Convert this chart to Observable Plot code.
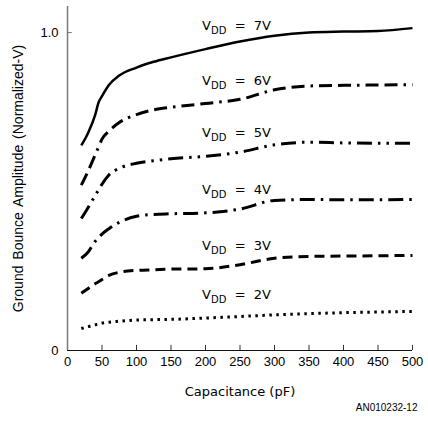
<!DOCTYPE html>
<html><head><meta charset="utf-8">
<script src="https://cdn.jsdelivr.net/npm/d3@7"></script>
<script src="https://cdn.jsdelivr.net/npm/@observablehq/plot@0.6"></script>
<style>body{margin:0;background:#fff} svg{display:block}</style>
</head><body><div id="chart"></div>
<script>
// Capacitance sample points (pF)
const capacitance = [20, 30, 40, 45, 50, 60, 75, 100, 125, 150, 200, 250, 300, 350, 400, 450, 500];
// Normalized ground bounce amplitude per supply voltage
const vdd7 = [0.645, 0.685, 0.74, 0.78, 0.80, 0.835, 0.865, 0.89, 0.908, 0.922, 0.948, 0.972, 0.99, 1.0, 1.003, 1.005, 1.014];
const vdd6 = [0.52, 0.565, 0.615, 0.64, 0.665, 0.69, 0.717, 0.742, 0.757, 0.765, 0.777, 0.79, 0.82, 0.832, 0.834, 0.835, 0.836];
const vdd5 = [0.415, 0.45, 0.487, 0.505, 0.523, 0.552, 0.573, 0.589, 0.597, 0.603, 0.611, 0.624, 0.647, 0.655, 0.653, 0.652, 0.652];
const vdd4 = [0.29, 0.31, 0.343, 0.355, 0.366, 0.383, 0.403, 0.422, 0.428, 0.43, 0.433, 0.445, 0.472, 0.475, 0.474, 0.474, 0.475];
const vdd3 = [0.18, 0.195, 0.21, 0.216, 0.223, 0.236, 0.246, 0.252, 0.254, 0.256, 0.257, 0.27, 0.29, 0.296, 0.297, 0.298, 0.299];
const vdd2 = [0.069, 0.075, 0.081, 0.083, 0.086, 0.089, 0.092, 0.096, 0.097, 0.098, 0.102, 0.107, 0.112, 0.116, 0.119, 0.121, 0.123];
const supplyLabels = ["7V", "6V", "5V", "4V", "3V", "2V"];
const xTicks = [0, 50, 100, 150, 200, 250, 300, 350, 400, 450, 500];
const yTicks = [0, 1];
const yTickLabels = ["0", "1.0"];
const xTitle = "Capacitance (pF)";
const yTitle = "Ground Bounce Amplitude (Normalized-V)";
const caption = "AN010232-12";

const dashes = [null, "13,6,13,6,2.5,6", "15,6,2.5,6,2.5,6", "15,6,2.5,6", "10,6", "2.5,4.5"];
const widths = [2.5, 3, 3, 3, 3, 3];
const seriesValues = [vdd7, vdd6, vdd5, vdd4, vdd3, vdd2];
const series = supplyLabels.map((label, k) => ({label, values: seriesValues[k], dash: dashes[k], width: widths[k]}));

const labelAt = 200;
const labelIndex = capacitance.indexOf(labelAt);
const tickLen = 0.016; // short inward tick

const SANS = "'Liberation Sans', Arial, sans-serif";
const WIDE = "'DejaVu Sans', sans-serif";

const lineMarks = series.map(s => Plot.line(capacitance, {
  x: d => d,
  y: (d, i) => s.values[i],
  curve: "monotone-x",
  stroke: "#000",
  strokeWidth: s.width,
  strokeDasharray: s.dash,
  strokeLinecap: "butt"
}));

const plot = Plot.plot({
  width: 428, height: 421,
  marginLeft: 67, marginRight: 16, marginTop: 6, marginBottom: 71,
  style: {fontFamily: SANS, fontSize: "13px", color: "#000", background: "#fff"},
  x: {domain: [0, 500]},
  y: {domain: [0, 1.082]},
  marks: [
    Plot.axisX(xTicks, {tickSize: 0, tickPadding: 6, label: null, fontSize: 13, fontFamily: SANS}),
    Plot.axisY(yTicks, {tickSize: 0, tickPadding: 9, label: null, fontSize: 13, fontFamily: SANS,
      tickFormat: d => yTickLabels[yTicks.indexOf(d)]}),
    Plot.ruleX([0], {stroke: "#777", strokeWidth: 1.5}),
    Plot.ruleY([0], {stroke: "#111", strokeWidth: 1.2}),
    Plot.ruleX(xTicks.slice(1), {x: d => d, y1: 0, y2: tickLen, stroke: "#333", strokeWidth: 1}),
    Plot.ruleY([1], {y: d => d, x1: 0, x2: 7, stroke: "#777", strokeWidth: 1}),
    ...lineMarks,
    Plot.text(series, {
      x: () => labelAt - 5,
      y: s => s.values[labelIndex],
      dy: -23,
      text: s => "VDD = " + s.label,
      textAnchor: "start",
      fontFamily: WIDE,
      fontSize: 13,
      fill: "#000"
    }),
    Plot.text([xTitle], {frameAnchor: "bottom", dy: 45, text: d => d,
      fontFamily: WIDE, fontSize: 13, fill: "#000"}),
    Plot.text([yTitle], {frameAnchor: "left", dx: -49, rotate: -90, text: d => d,
      textAnchor: "middle", fontFamily: SANS, fontSize: 14, fill: "#000"}),
    Plot.text([caption], {frameAnchor: "bottom-right", dx: 5, dy: 60, textAnchor: "end", text: d => d,
      fontFamily: SANS, fontSize: 10, fill: "#000"})
  ]
});

d3.select(plot).selectAll("text").each(function() {
  const t = this.textContent;
  if (t.startsWith("VDD = ")) {
    const v = t.slice(6);
    const el = d3.select(this).style("white-space", "pre");
    el.text(null);
    el.append("tspan").text("V");
    el.append("tspan").attr("dy", 4).attr("font-size", "10px").text("DD");
    el.append("tspan").attr("dy", -4).text("  =  " + v);
  }
});
d3.select(plot).selectAll("text").filter(function(){ return this.textContent === yTitle; })
  .style("word-spacing", "2px");

document.getElementById("chart").appendChild(plot);
</script>
</body></html>
